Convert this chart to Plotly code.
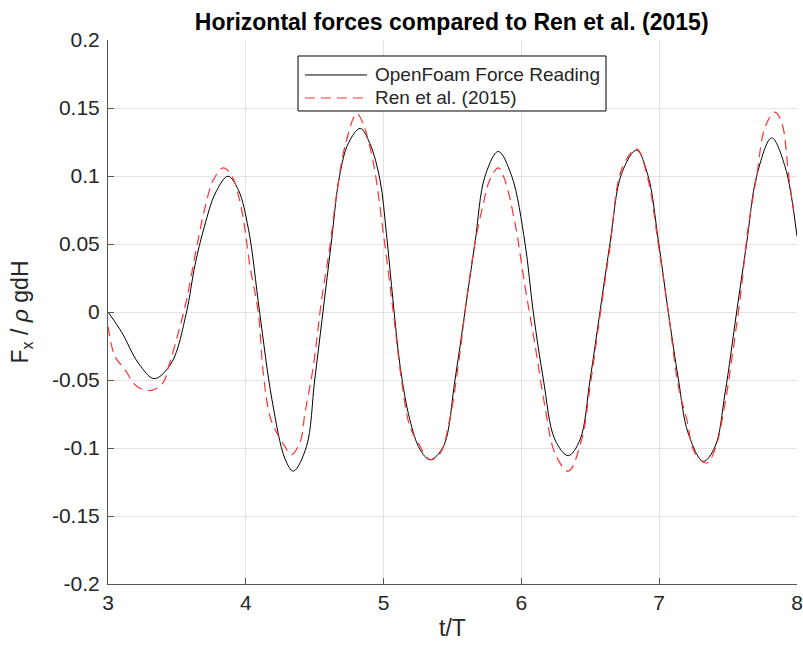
import plotly.graph_objects as go

# OpenFoam force reading (t/T, Fx / rho g d H)
of_t = [3.00, 3.10, 3.22, 3.336, 3.46, 3.57, 3.63, 3.70, 3.78, 3.87, 3.945, 4.02, 4.10, 4.19, 4.285,
        4.345, 4.44, 4.50, 4.56, 4.62, 4.68, 4.744, 4.83, 4.90, 4.974, 5.02, 5.07, 5.12, 5.19, 5.264,
        5.337, 5.433, 5.518, 5.59, 5.663, 5.736, 5.832, 5.93, 6.026, 6.086, 6.16, 6.244, 6.34, 6.425,
        6.498, 6.57, 6.643, 6.728, 6.836, 6.92, 6.993, 7.066, 7.14, 7.21, 7.32, 7.405, 7.478, 7.562,
        7.635, 7.707, 7.816, 7.913, 8.00]
of_f = [0.000, -0.015, -0.0375, -0.049, -0.0375, 0.000, 0.034, 0.063, 0.0875, 0.0998, 0.090, 0.0605, 0.000, -0.0645, -0.108,
        -0.117, -0.099, -0.050, 0.000, 0.0507, 0.0998, 0.124, 0.135, 0.124, 0.097, 0.058, 0.0066, -0.040, -0.079, -0.101,
        -0.1086, -0.099, -0.050, 0.000, 0.0507, 0.0998, 0.118, 0.0998, 0.0507, 0.000, -0.050, -0.094, -0.1056, -0.094,
        -0.050, 0.000, 0.0507, 0.102, 0.119, 0.0998, 0.053, 0.000, -0.050, -0.089, -0.1098, -0.099, -0.0596, 0.000,
        0.0507, 0.0998, 0.128, 0.107, 0.0556]

# Ren et al. (2015)
ren_t = [3.00, 3.05, 3.12, 3.21, 3.317, 3.40, 3.44, 3.51, 3.57, 3.64, 3.70, 3.764, 3.837, 3.90, 3.97,
         4.03, 4.09, 4.127, 4.176, 4.236, 4.285, 4.33, 4.393, 4.43, 4.49, 4.55, 4.61, 4.66, 4.72, 4.805,
         4.853, 4.925, 4.998, 5.07, 5.13, 5.19, 5.25, 5.337, 5.41, 5.48, 5.554, 5.59, 5.663, 5.72, 5.77,
         5.832, 5.88, 5.954, 6.026, 6.10, 6.17, 6.244, 6.34, 6.437, 6.498, 6.57, 6.643, 6.728, 6.836, 6.92,
         6.993, 7.066, 7.14, 7.20, 7.26, 7.345, 7.405, 7.478, 7.526, 7.586, 7.647, 7.707, 7.77, 7.84, 7.89,
         7.94, 7.975]
ren_f = [-0.0105, -0.0326, -0.042, -0.0547, -0.0576, -0.052, -0.040, -0.0154, 0.009, 0.046, 0.075, 0.097, 0.106, 0.0998, 0.075,
         0.034, 0.000, -0.045, -0.077, -0.091, -0.099, -0.105, -0.096, -0.074, -0.040, 0.009, 0.048, 0.0875, 0.122, 0.146,
         0.138, 0.110, 0.058, 0.000, -0.050, -0.084, -0.096, -0.1086, -0.104, -0.079, -0.030, 0.000, 0.0507, 0.078, 0.097,
         0.106, 0.097, 0.065, 0.019, -0.025, -0.069, -0.104, -0.117, -0.094, -0.055, -0.003, 0.048, 0.105, 0.120, 0.097,
         0.050, 0.000, -0.055, -0.079, -0.104, -0.111, -0.101, -0.067, -0.035, 0.009, 0.063, 0.0998, 0.1365, 0.147, 0.139,
         0.0998, 0.075]

x_ticks = [3, 4, 5, 6, 7, 8]
x_labels = ["3", "4", "5", "6", "7", "8"]
y_ticks = [0.2, 0.15, 0.1, 0.05, 0, -0.05, -0.1, -0.15, -0.2]
y_labels = ["0.2", "0.15", "0.1", "0.05", "0", "-0.05", "-0.1", "-0.15", "-0.2"]

series_names = ["OpenFoam Force Reading", "Ren et al. (2015)"]
series_colors = ["#000000", "rgb(255,50,50)"]
series_dash = ["solid", "10px,6px"]
series_width = [1, 1.2]

FONT = "Arial, Liberation Sans, sans-serif"
TXT = "#262626"
AX = "#555555"

fig = go.Figure()
for t, f, name, col, dash, w in zip([of_t, ren_t], [of_f, ren_f], series_names,
                                     series_colors, series_dash, series_width):
    fig.add_trace(go.Scatter(x=t, y=f, mode="lines", name=name, showlegend=False,
                             line=dict(color=col, width=w, dash=dash, shape="spline", smoothing=1)))

# MATLAB-style legend box (paper coordinates)
lx0, lx1, ly0, ly1 = 0.2758, 0.7228, 0.8695, 0.9706
row_y = [0.9357, 0.8934]
fig.add_shape(type="rect", xref="paper", yref="paper", x0=lx0, x1=lx1, y0=ly0, y1=ly1,
              line=dict(color="#000000", width=1), fillcolor="white", layer="above")
for yy, name, col, dash, w in zip(row_y, series_names, series_colors, series_dash, series_width):
    fig.add_shape(type="line", xref="paper", yref="paper", x0=0.2859, x1=0.3759, y0=yy, y1=yy,
                  line=dict(color=col, width=w, dash=dash), layer="above")
    fig.add_annotation(xref="paper", yref="paper", x=0.3846, y=yy, xanchor="left", yanchor="middle",
                       text=name, showarrow=False, font=dict(size=19, color=TXT, family=FONT))

fig.update_layout(
    width=803, height=652,
    margin=dict(l=108, r=6, t=40, b=68),
    paper_bgcolor="white", plot_bgcolor="white",
    font=dict(family=FONT, size=21, color=TXT),
    title=dict(text="<b>Horizontal forces compared to Ren et al. (2015)</b>",
               x=0.5625, xanchor="center", y=0.966, yanchor="middle",
               font=dict(size=23, color="#000000")),
    showlegend=False,
)
fig.update_xaxes(range=[3, 8], tickvals=x_ticks, ticktext=x_labels, automargin=False,
                 showgrid=True, gridcolor="#e3e3e3", gridwidth=1,
                 showline=True, linecolor=AX, linewidth=1,
                 ticks="inside", ticklen=6, tickcolor=AX,
                 zeroline=False, mirror=False,
                 title=dict(text="t/T", font=dict(size=23, color=TXT), standoff=6),
                 tickfont=dict(size=21, color=TXT))
fig.update_yaxes(range=[-0.2, 0.2], tickvals=y_ticks, ticktext=y_labels, automargin=False,
                 showgrid=True, gridcolor="#e3e3e3", gridwidth=1,
                 showline=True, linecolor=AX, linewidth=1,
                 ticks="inside", ticklen=6, tickcolor=AX, ticklabelstandoff=3,
                 zeroline=False, mirror=False,
                 title=dict(text="F<sub>x</sub> / <i>ρ</i> gdH", font=dict(size=23, color=TXT), standoff=16),
                 tickfont=dict(size=21, color=TXT))

fig.write_html("out.html")
